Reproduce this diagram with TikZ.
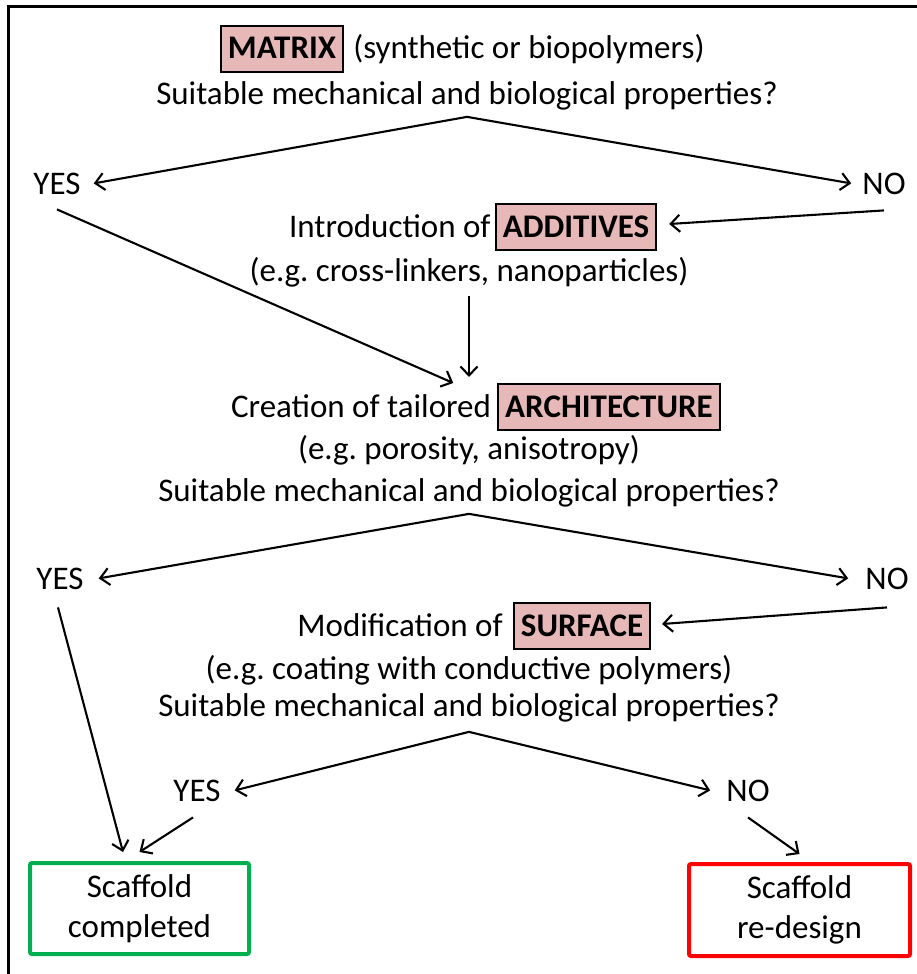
\documentclass[tikz,border=0pt]{standalone}
\usepackage{fontspec}
\setmainfont{Carlito}
\usetikzlibrary{arrows.meta,calc}
\definecolor{pinkfill}{HTML}{E6B9B8}
\definecolor{okgreen}{HTML}{00B050}
\definecolor{badred}{HTML}{FF0000}
\frenchspacing
\begin{document}
\begin{tikzpicture}[x=1pt,y=-1pt,
  every node/.style={font=\fontsize{33}{40}\selectfont, inner sep=0pt},
  keybox/.style={draw=black, line width=2pt, fill=pinkfill, font=\fontsize{33}{40}\selectfont\bfseries, inner xsep=7pt, inner ysep=10pt, text height=23pt, text depth=3pt},
  arr/.style={line width=2.1pt, -{Straight Barb[length=9pt,width=17pt,line width=2.1pt]}},
  endbox/.style={line width=4pt, rounded corners=2pt, align=center, minimum width=219pt, minimum height=91pt}
]
\useasboundingbox (0,0) rectangle (917,974);
\draw[line width=3pt] (8,980) -- (8,7) -- (925,7);

% level 1
\node[keybox, anchor=base] (matrix) at (282,59) {MATRIX~};
\node[anchor=base west] (matrixnote) at ([xshift=9pt]matrix.base east) {(synthetic or biopolymers)};
\node[anchor=base] (q1) at (467,104) {Suitable mechanical and biological properties?};
\coordinate (ap1) at ([yshift=-7pt]q1.south);
\node[anchor=base] (yes1) at (57,194) {YES};
\node[anchor=base] (no1) at (884,194) {NO};

% additives
\node[keybox, anchor=base] (add) at (576,237) {ADDITIVES};
\node[anchor=base east] (addintro) at ([xshift=-4pt]add.base west) {Introduction of};
\node[anchor=base] (eg1) at (469,281) {(e.g. cross-linkers, nanoparticles)};

% architecture
\node[keybox, anchor=base] (arch) at (609,417) {ARCHITECTURE};
\node[anchor=base east] (archintro) at ([xshift=-6pt]arch.base west) {Creation of tailored};
\node[anchor=base] (eg2) at (469,459) {(e.g. porosity, anisotropy)};
\node[anchor=base] (q2) at (469,501) {Suitable mechanical and biological properties?};
\coordinate (ap2) at ([yshift=-7pt]q2.south);
\node[anchor=base] (yes2) at (60,589) {YES};
\node[anchor=base] (no2) at (887,589) {NO};

% surface
\node[keybox, anchor=base] (surf) at (582,636) {SURFACE};
\node[anchor=base east] (surfintro) at ([xshift=-10pt]surf.base west) {Modification of};
\node[anchor=base] (eg3) at (469,679) {(e.g. coating with conductive polymers)};
\node[anchor=base] (q3) at (469,716) {Suitable mechanical and biological properties?};
\coordinate (ap3) at ([yshift=-10pt]q3.south);
\node[anchor=base] (yes3) at (197,801) {YES};
\node[anchor=base] (no3) at (748,801) {NO};

% end boxes
\node[endbox, draw=okgreen] (done) at (139.5,908.5) {Scaffold\\completed};
\node[endbox, draw=badred, minimum width=221pt, minimum height=92pt] (redo) at (799.5,910) {Scaffold\\re-design};

% arrows
\draw[arr] (ap1) -- ([xshift=13pt]yes1.east);
\draw[arr] (ap1) -- ([xshift=-11pt]no1.west);
\draw[arr] ([yshift=-16pt]no1.south) -- ([xshift=12pt,yshift=3pt]add.east);
\draw[arr] ([yshift=-15pt]yes1.south) -- ([xshift=-44pt,yshift=0pt]arch.north west);
\draw[arr, shorten >=6pt] ([yshift=-9pt]eg1.south) -- (eg1.south |- arch.north);

\draw[arr] (ap2) -- ([xshift=15pt]yes2.east);
\draw[arr] (ap2) -- ([xshift=-17pt]no2.west);
\draw[arr] ([yshift=-18pt]no2.south) -- ([xshift=11pt,yshift=2pt]surf.east);
\draw[arr] ([xshift=-2pt,yshift=-18pt]yes2.south) -- ([xshift=-16.5pt,yshift=9pt]done.north);

\draw[arr] (ap3) -- ([xshift=14pt]yes3.east);
\draw[arr] (ap3) -- ([xshift=-16pt]no3.west);
\draw[arr] ([xshift=-4pt,yshift=-16pt]yes3.south) -- ([yshift=9pt]done.north);
\draw[arr] ([yshift=-16pt]no3.south) -- ([yshift=8pt]redo.north);
\end{tikzpicture}
\end{document}
